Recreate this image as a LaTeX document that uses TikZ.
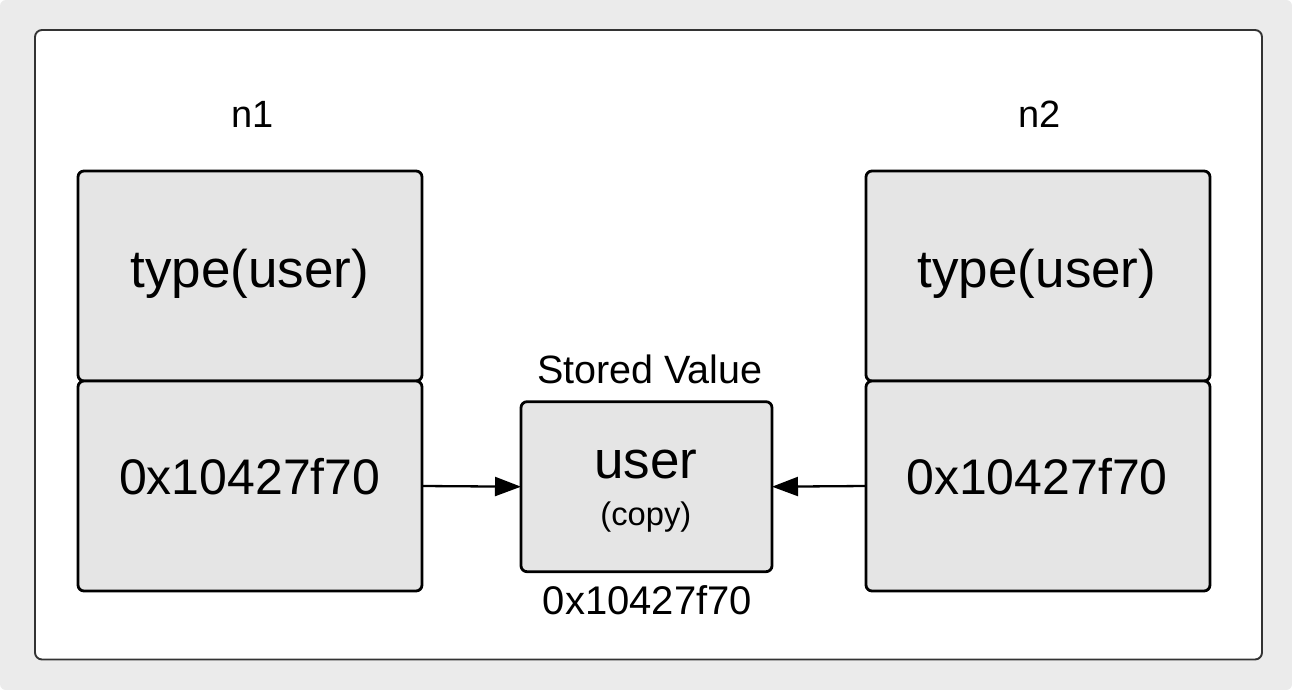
\documentclass[tikz,border=0pt]{standalone}
\usepackage{fontspec}
\setmainfont{Liberation Sans}
\usetikzlibrary{arrows.meta}
\definecolor{bggray}{HTML}{EBEBEB}
\definecolor{boxfill}{HTML}{E5E5E5}
\definecolor{framecol}{HTML}{333333}
\begin{document}
\begin{tikzpicture}[x=1pt,y=-1pt,
  cell/.style={draw=black, line width=2.8pt, fill=boxfill, rounded corners=6pt,
    minimum width=344pt, minimum height=210pt, inner sep=0pt, outer sep=0pt},
  centerbox/.style={draw=black, line width=2.8pt, fill=boxfill, rounded corners=6pt,
    minimum width=251pt, minimum height=170pt, inner sep=0pt, outer sep=0pt},
  txt/.style={anchor=base, inner sep=0pt},
  big/.style={txt, font=\fontsize{50}{60}\selectfont},
  conn/.style={line width=2.3pt, -{Triangle[length=26pt,width=19pt]}}
]
\useasboundingbox (0,0) rectangle (1292,690);
\fill[white] (0,0) rectangle (1292,690);
\fill[bggray, rounded corners=6pt] (0,0) rectangle (1292,690);
\draw[framecol, line width=1.9pt, fill=white, rounded corners=7pt] (35,30) rectangle (1262,659.5);

% boxes
\node[cell] (n1type) at (250,276) {};
\node[cell] (n1addr) at (250,486) {};
\node[cell] (n2type) at (1038,276) {};
\node[cell] (n2addr) at (1038,486) {};
\node[centerbox] (stored) at (646.5,486.7) {};

% labels
\node[txt, font=\fontsize{38}{46}\selectfont] (n1lbl) at (252.5,128) {n1};
\node[txt, font=\fontsize{38}{46}\selectfont] (n2lbl) at (1039.5,128) {n2};
\node[txt, font=\fontsize{53}{62}\selectfont] (t1) at (249.7,287) {type(user)};
\node[txt, font=\fontsize{53}{62}\selectfont] (t2) at (1037,287) {type(user)};
\node[big] (a1) at (249.7,494) {0x10427f70};
\node[big] (a2) at (1037,494) {0x10427f70};
\node[txt, font=\fontsize{39.5}{46}\selectfont] (sv) at (649.8,383) {Stored Value};
\node[txt, font=\fontsize{53}{62}\selectfont] (u) at (645.9,478) {user};
\node[txt, font=\fontsize{32.7}{40}\selectfont] (cp) at (645.9,525) {(copy)};
\node[txt, font=\fontsize{40}{48}\selectfont] (sa) at (647.4,614) {0x10427f70};

% connectors
\draw[conn] (n1addr.east) -- (stored.west);
\draw[conn] (n2addr.west) -- (stored.east);
\end{tikzpicture}
\end{document}
